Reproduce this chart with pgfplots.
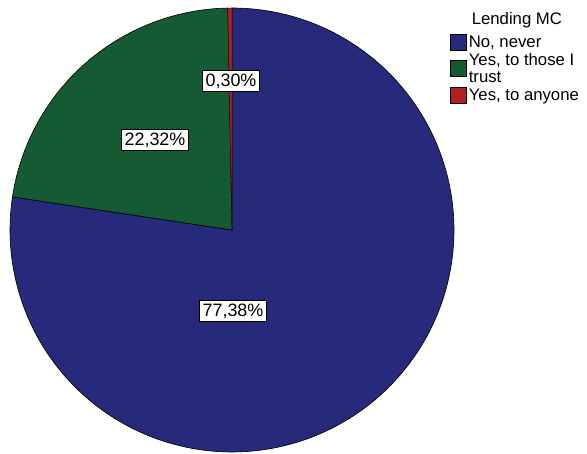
\documentclass[border=0pt]{standalone}
\usepackage{pgfplots}
\pgfplotsset{compat=1.18}
\usepackage{fontspec}
\setmainfont{Liberation Sans}

\definecolor{pieblue}{HTML}{27297A}
\definecolor{piegreen}{HTML}{145A32}
\definecolor{piered}{HTML}{B02020}

% shares in percent
\def\pNo{77.38}
\def\pTrust{22.32}
\def\pAny{0.30}

\begin{document}
\begin{tikzpicture}
\pgfmathsetmacro\aA{90-3.6*\pNo}
\pgfmathsetmacro\aB{\aA-3.6*\pTrust}
\pgfmathsetmacro\aC{\aB-3.6*\pAny}
\begin{axis}[
  x=1bp, y=1bp,
  xmin=0, xmax=587, ymin=0, ymax=454,
  hide axis, clip=false,
  samples=240, variable=\t,
  legend style={at={(axis cs:450,442)}, anchor=north west, draw=none, fill=none,
    nodes={font=\fontsize{16.8}{17}\selectfont, inner xsep=2bp, inner ysep=0pt},
    cells={anchor=west, align=left},
    row sep=3bp, inner sep=0pt},
  legend image code/.code={\fill[#1] (0bp,-8bp) rectangle (16bp,8bp);},
]
\path (axis cs:0,0) rectangle (axis cs:587,454);
\addlegendimage{empty legend}
\addlegendentry{\raisebox{5bp}{\hspace{3bp}Lending MC}}
\addplot[fill=pieblue, draw=black, line width=0.6bp, domain=90:\aA]
  ({232+222*cos(t)},{224+222*sin(t)}) -- (axis cs:232,224) -- cycle;
\addlegendentry{No, never}
\addplot[fill=piegreen, draw=black, line width=0.6bp, domain=\aA:\aB]
  ({232+222*cos(t)},{224+222*sin(t)}) -- (axis cs:232,224) -- cycle;
\addlegendentry{Yes, to those I\\trust}
\addplot[fill=piered, draw=black, line width=0.3bp, domain=\aB:\aC, samples=10]
  ({232+222*cos(t)},{224+222*sin(t)}) -- (axis cs:232,224) -- cycle;
\addlegendentry{Yes, to anyone}
\tikzset{lab/.style={fill=white, draw=black, line width=0.5bp, inner sep=3bp,
  font=\fontsize{18}{18}\selectfont}}
\node[lab] at (axis cs:233,143) {77,38\%};
\node[lab] at (axis cs:155,314) {22,32\%};
\node[lab] at (axis cs:231,373) {0,30\%};
\end{axis}
\end{tikzpicture}
\end{document}
